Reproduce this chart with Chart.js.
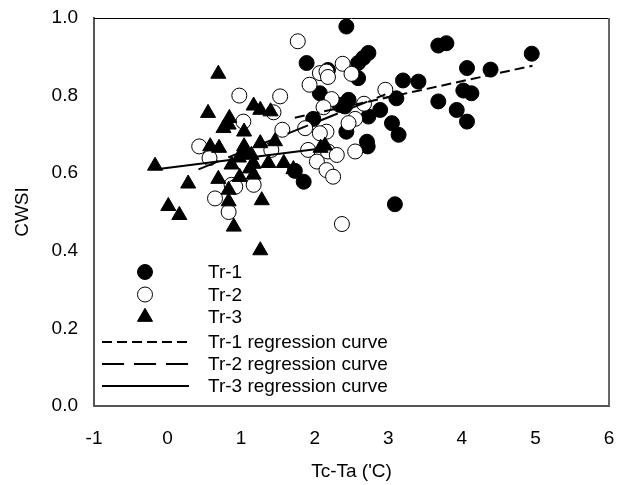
<!DOCTYPE html>
<html lang="en">
<head>
    <meta charset="UTF-8">
    <title>CWSI vs Tc-Ta</title>
    <script src="https://cdn.jsdelivr.net/npm/chart.js"></script>
    <style>
        body { margin: 0; background: #fff; }
        #wrap { width: 621px; height: 485px; }
    </style>
</head>
<body>
    <div id="wrap"><canvas id="cwsiChart" width="621" height="485"></canvas></div>

    <script>
        // Tr-1 (filled circles)
        const tr1X = [2.43, 3.68, 3.79, 1.89, 2.73, 2.66, 2.59, 2.59, 3.20, 3.41, 3.11, 3.68, 2.07, 2.46, 2.41, 2.89, 2.73,
                      3.05, 3.14, 2.43, 2.71, 2.72, 1.98, 4.95, 4.07, 4.39, 4.02, 4.13, 3.93, 4.07, 3.09, 1.73, 1.85, 2.18, 2.34];
        const tr1Y = [0.978, 0.929, 0.935, 0.884, 0.910, 0.897, 0.884, 0.845, 0.839, 0.836, 0.793, 0.785, 0.806, 0.789, 0.772, 0.763, 0.746,
                      0.729, 0.699, 0.707, 0.681, 0.669, 0.740, 0.908, 0.871, 0.867, 0.813, 0.806, 0.763, 0.733, 0.520, 0.606, 0.578, 0.866, 0.776];

        // Tr-2 (open circles)
        const tr2X = [1.77, 2.38, 2.07, 2.16, 2.18, 2.50, 1.93, 1.53, 2.23, 2.96, 2.67, 2.12, 2.55, 1.87, 2.16, 1.56, 1.44, 2.46, 2.55,
                      1.91, 2.07, 0.975, 1.03, 0.43, 0.57, 1.41, 1.17, 0.87, 0.645, 0.92, 0.83, 2.03, 2.16, 2.25, 2.18, 2.30, 2.37];
        const tr2Y = [0.940, 0.882, 0.858, 0.862, 0.848, 0.856, 0.828, 0.798, 0.791, 0.815, 0.779, 0.770, 0.740, 0.716, 0.707, 0.712, 0.757, 0.729, 0.656,
                      0.660, 0.703, 0.800, 0.733, 0.669, 0.639, 0.660, 0.570, 0.570, 0.535, 0.565, 0.500, 0.630, 0.608, 0.591, 0.656, 0.647, 0.469];

        // Tr-3 (triangles)
        const tr3X = [0.69, 1.17, 1.40, 0.55, 0.84, 0.76, 0.83, 1.04, 0.58, 0.70, 1.04, 1.26, 1.46, 1.14, -0.17, 0.87, 1.17, 1.12, 1.37,
                      1.58, 0.98, 1.17, 0.28, 0.69, 1.71, 0.01, 0.16, 0.83, 0.83, 1.28, 0.90, 1.26, 2.08, 2.14, 1.03, 1.26, 0.97];
        const tr3Y = [0.856, 0.774, 0.759, 0.755, 0.742, 0.716, 0.725, 0.707, 0.669, 0.665, 0.669, 0.677, 0.682, 0.647, 0.619, 0.622, 0.624, 0.612, 0.626,
                      0.626, 0.590, 0.596, 0.573, 0.585, 0.610, 0.515, 0.492, 0.557, 0.527, 0.530, 0.462, 0.401, 0.665, 0.671, 0.652, 0.763, 0.640];

        // regression curves (end points)
        const reg1X = [1.73, 4.96], reg1Y = [0.743, 0.877];
        const reg2X = [0.42, 2.96], reg2Y = [0.610, 0.803];
        const reg3X = [-0.15, 2.14], reg3Y = [0.610, 0.665];

        const xTicks = [-1, 0, 1, 2, 3, 4, 5, 6];
        const yTicks = [0.0, 0.2, 0.4, 0.6, 0.8, 1.0];

        const pts = (xs, ys) => xs.map((x, i) => ({ x: x, y: ys[i] }));
        const FONT = 'Liberation Sans';

        const frame = {
            id: 'frame',
            afterDatasetsDraw(chart) {
                const a = chart.chartArea, c = chart.ctx;
                c.save();
                c.strokeStyle = '#000';
                c.lineWidth = 1;
                c.beginPath(); c.moveTo(a.left, a.top + 0.5); c.lineTo(a.right, a.top + 0.5); c.stroke();
                c.strokeStyle = '#666';
                c.lineWidth = 2;
                c.beginPath(); c.moveTo(a.right, a.top); c.lineTo(a.right, a.bottom); c.stroke();
                c.restore();
            }
        };

        // legend drawn inside the plot, lower left
        const innerLegend = {
            id: 'innerLegend',
            afterDraw(chart) {
                const c = chart.ctx;
                const rows = [272, 294.5, 317, 342, 364, 386];
                const order = [3, 2, 1, 4, 5, 6]; // dataset indexes
                c.save();
                c.font = '19px "' + FONT + '"';
                c.textBaseline = 'middle';
                rows.forEach((y, i) => {
                    const ds = chart.data.datasets[order[i]];
                    if (i < 3) {
                        c.fillStyle = ds.backgroundColor;
                        c.strokeStyle = ds.borderColor;
                        c.lineWidth = ds.borderWidth;
                        c.beginPath();
                        const r = ds.pointRadius;
                        if (ds.pointStyle === 'circle') {
                            c.arc(145, y, r, 0, Math.PI * 2);
                        } else {
                            c.moveTo(145, y - r);
                            c.lineTo(145 + r * 0.866, y + r * 0.5);
                            c.lineTo(145 - r * 0.866, y + r * 0.5);
                            c.closePath();
                        }
                        c.fill();
                        c.stroke();
                    } else {
                        c.strokeStyle = '#000';
                        c.lineWidth = ds.borderWidth;
                        c.setLineDash(ds.borderDash || []);
                        c.beginPath(); c.moveTo(102, y); c.lineTo(189, y); c.stroke();
                        c.setLineDash([]);
                    }
                    c.fillStyle = '#000';
                    c.fillText(ds.label, 208, y + 1);
                });
                c.restore();
            }
        };

        const ctx = document.getElementById('cwsiChart').getContext('2d');
        const chart = new Chart(ctx, {
            type: 'scatter',
            data: {
                datasets: [
                    {   // placeholder, keeps legend indexes simple
                        label: '', data: [], pointRadius: 0, order: 9
                    },
                    {
                        label: 'Tr-3', data: pts(tr3X, tr3Y), pointStyle: 'triangle', pointRadius: 8.7,
                        backgroundColor: '#000', borderColor: '#000', borderWidth: 1, order: 2
                    },
                    {
                        label: 'Tr-2', data: pts(tr2X, tr2Y), pointStyle: 'circle', pointRadius: 7.5,
                        backgroundColor: '#fff', borderColor: '#000', borderWidth: 1, order: 3
                    },
                    {
                        label: 'Tr-1', data: pts(tr1X, tr1Y), pointStyle: 'circle', pointRadius: 7.5,
                        backgroundColor: '#000', borderColor: '#000', borderWidth: 1, order: 4
                    },
                    {
                        label: 'Tr-1 regression curve', data: pts(reg1X, reg1Y), showLine: true, pointRadius: 0,
                        borderColor: '#000', borderWidth: 2, borderDash: [10, 5], order: 1
                    },
                    {
                        label: 'Tr-2 regression curve', data: pts(reg2X, reg2Y), showLine: true, pointRadius: 0,
                        borderColor: '#000', borderWidth: 2, borderDash: [22, 10], order: 1
                    },
                    {
                        label: 'Tr-3 regression curve', data: pts(reg3X, reg3Y), showLine: true, pointRadius: 0,
                        borderColor: '#000', borderWidth: 2, order: 1
                    }
                ]
            },
            options: {
                responsive: false,
                animation: false,
                layout: { padding: { left: 0, right: 12, top: 18, bottom: 0 } },
                plugins: { legend: { display: false }, tooltip: { enabled: false } },
                scales: {
                    x: {
                        type: 'linear', min: -1, max: 6,
                        afterBuildTicks: s => { s.ticks = xTicks.map(v => ({ value: v })); },
                        afterFit: s => { s.height = 79; s.paddingLeft = 0; s.paddingRight = 0; },
                        grid: { display: false, drawOnChartArea: false, drawTicks: true, tickLength: 6, tickColor: '#555' },
                        border: { display: true, color: '#555', width: 2 },
                        ticks: { color: '#000', font: { family: FONT, size: 19 }, padding: 15, maxRotation: 0 },
                        title: { display: true, text: "Tc-Ta ('C)", color: '#000', font: { family: FONT, size: 19 }, padding: { top: 4, bottom: 2 } }
                    },
                    y: {
                        type: 'linear', min: 0, max: 1,
                        afterBuildTicks: s => { s.ticks = yTicks.map(v => ({ value: v })); },
                        afterFit: s => { s.width = 94; s.paddingTop = 0; s.paddingBottom = 0; },
                        grid: { display: false, drawOnChartArea: false, drawTicks: true, tickLength: 6, tickColor: '#555' },
                        border: { display: true, color: '#555', width: 2 },
                        ticks: { color: '#000', font: { family: FONT, size: 19 }, padding: 10, callback: v => v.toFixed(1) },
                        title: { display: true, text: 'CWSI', color: '#000', font: { family: FONT, size: 19 }, padding: { top: 11, bottom: 4 } }
                    }
                }
            },
            plugins: [frame, innerLegend]
        });
    </script>
</body>
</html>
